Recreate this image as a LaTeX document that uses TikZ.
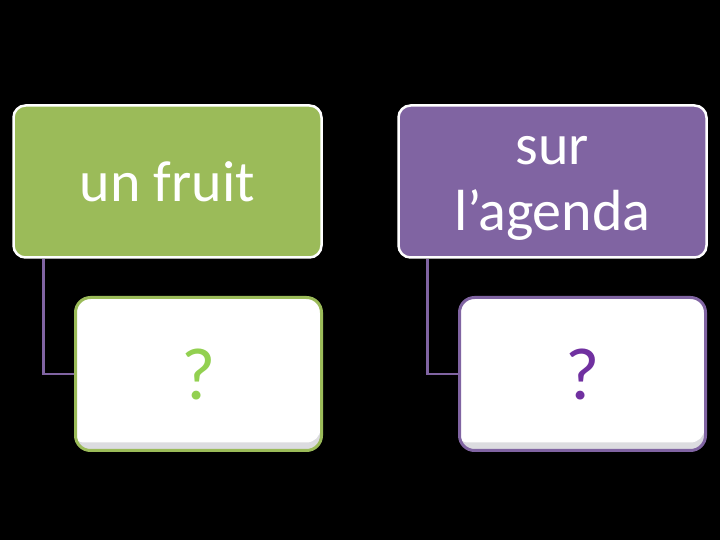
\documentclass[tikz,border=0pt]{standalone}
\usepackage{fontspec}
\setmainfont{Carlito}
\definecolor{mgreen}{HTML}{9BBB59}
\definecolor{mpurple}{HTML}{8064A2}
\definecolor{qgreen}{HTML}{92D050}
\definecolor{qpurple}{HTML}{7030A0}
\definecolor{bevel}{HTML}{DCDCE0}
\begin{document}
\begin{tikzpicture}[x=1pt,y=1pt,
  topbox/.style={draw=white, line width=2.5pt, rounded corners=12pt, minimum width=308pt, minimum height=152pt, inner sep=0pt, text=white, align=center, font=\fontsize{58}{66}\selectfont},
  subbox/.style={draw=#1, fill=bevel, line width=3pt, rounded corners=15pt, minimum width=246pt, minimum height=153pt, inner sep=0pt,
    font=\fontsize{74}{80}\selectfont,
    path picture={\fill[white, rounded corners=14pt] ([xshift=-5pt,yshift=5pt]path picture bounding box.north west) rectangle ([xshift=-1pt,yshift=8pt]path picture bounding box.south east);}},
  conn/.style={draw=mpurple, line width=2.5pt}]
\fill[black] (0,0) rectangle (720,540);
\useasboundingbox (0,0) rectangle (720,540);
\node[topbox, fill=mgreen] (tl) at (167.5,358.5) {un fruit};
\node[topbox, fill=mpurple, label={[text=white, align=center, font=\fontsize{58}{66}\selectfont, yshift=-7pt]center:sur\\l’agenda}] (tr) at (552.5,358.5) {};
\draw[conn] ([xshift=31pt]tl.south west) |- (198.5,166) coordinate (jl);
\draw[conn] ([xshift=30pt]tr.south west) |- (582.5,166) coordinate (jr);
\node[subbox=mgreen, text=qgreen] (bl) at (198.5,166) {?};
\node[subbox=mpurple, text=qpurple] (br) at (582.5,166) {?};
\end{tikzpicture}
\end{document}
